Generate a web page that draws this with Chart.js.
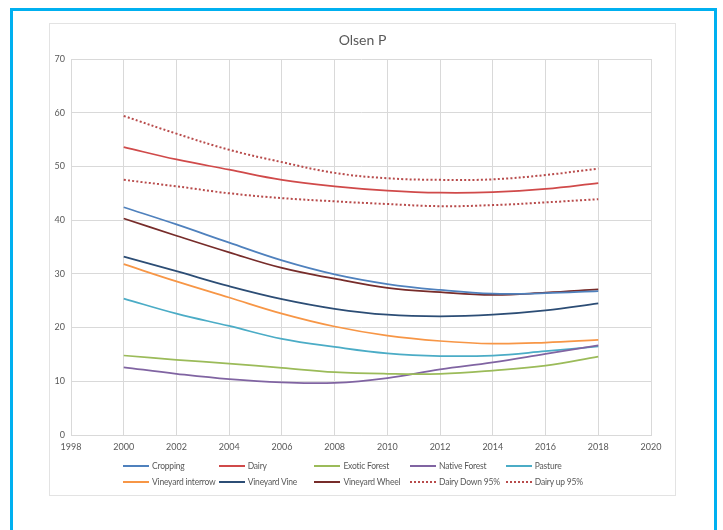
<!DOCTYPE html>
<html>
<head>
<meta charset="utf-8">
<script src="https://cdn.jsdelivr.net/npm/chart.js@4"></script>
<style>
  html, body { margin:0; padding:0; background:#fff; }
  body { width:723px; height:530px; position:relative; overflow:hidden; font-family: Lato, "Open Sans", sans-serif; }
  #cyan { position:absolute; left:10px; top:8px; width:701px; height:540px; border:3px solid #00B0F0; box-sizing:content-box; }
  #frame { position:absolute; left:49px; top:23px; width:625px; height:471px; border:1px solid #E3E3E3; }
  #title { position:absolute; left:49px; width:627px; top:31px; text-align:center; font-size:14px; color:#595959; }
  #wrap { position:absolute; left:0; top:0; width:723px; height:530px; }
  .lg { position:absolute; font-size:8.5px; letter-spacing:-0.2px; color:#595959; white-space:nowrap; height:10px; line-height:10px; }
  .lg .s { position:absolute; left:0; top:4px; width:26px; }
  .lg .t { position:absolute; left:29px; top:0; }
</style>
</head>
<body>
<div id="cyan"></div>
<div id="frame"></div>
<div id="wrap"><canvas id="c" width="723" height="530"></canvas></div>
<div id="title">Olsen P</div>
<div id="legend"></div>
<script>
const years = [2000, 2002, 2004, 2006, 2008, 2010, 2012, 2014, 2016, 2018];
const seriesNames = ["Cropping", "Dairy", "Exotic Forest", "Native Forest", "Pasture",
  "Vineyard interrow", "Vineyard Vine", "Vineyard Wheel", "Dairy Down 95%", "Dairy up 95%"];
const cropping        = [42.4, 39.2, 35.8, 32.5, 29.9, 28.1, 27.0, 26.3, 26.4, 26.8];
const dairy           = [53.6, 51.3, 49.4, 47.5, 46.3, 45.5, 45.1, 45.2, 45.8, 46.9];
const exoticForest    = [14.8, 14.0, 13.3, 12.5, 11.7, 11.4, 11.4, 12.0, 12.9, 14.6];
const nativeForest    = [12.6, 11.4, 10.4, 9.8, 9.7, 10.6, 12.2, 13.5, 15.1, 16.7];
const pasture         = [25.4, 22.6, 20.3, 17.9, 16.4, 15.2, 14.7, 14.8, 15.6, 16.5];
const vineyardInterrow= [31.8, 28.6, 25.6, 22.6, 20.2, 18.5, 17.5, 17.0, 17.2, 17.7];
const vineyardVine    = [33.2, 30.5, 27.7, 25.3, 23.5, 22.4, 22.1, 22.4, 23.2, 24.5];
const vineyardWheel   = [40.3, 37.1, 34.0, 31.1, 29.1, 27.4, 26.6, 26.1, 26.5, 27.1];
const dairyDown95     = [47.5, 46.3, 45.0, 44.1, 43.5, 43.0, 42.6, 42.8, 43.3, 43.9];
const dairyUp95       = [59.4, 56.1, 53.1, 50.8, 48.8, 47.8, 47.5, 47.6, 48.4, 49.6];
const xTicks = [1998, 2000, 2002, 2004, 2006, 2008, 2010, 2012, 2014, 2016, 2018, 2020];
const yTicks = [0, 10, 20, 30, 40, 50, 60, 70];

const values = [cropping, dairy, exoticForest, nativeForest, pasture, vineyardInterrow, vineyardVine, vineyardWheel, dairyDown95, dairyUp95];
const colors = ["#4F81BD", "#D04A4A", "#9BBB59", "#8064A2", "#4BACC6", "#F79646", "#2C4D75", "#772C2A", "#B84B4B", "#B84B4B"];
const dotted = [false, false, false, false, false, false, false, false, true, true];

const datasets = values.map((v, i) => ({
  label: seriesNames[i],
  data: years.map((y, j) => ({x: y, y: v[j]})),
  borderColor: colors[i],
  backgroundColor: colors[i],
  borderWidth: dotted[i] ? 2 : 1.75,
  borderDash: dotted[i] ? [2, 2.2] : [],
  pointRadius: 0,
  tension: 0.4,
  fill: false
}));

const tickFont = { family: "Lato, 'Open Sans', sans-serif", size: 9 };
const chart = new Chart(document.getElementById('c'), {
  type: 'line',
  data: { datasets },
  options: {
    responsive: false,
    animation: false,
    layout: { padding: { left: 41, right: 72, top: 59, bottom: 75 } },
    plugins: { legend: { display: false }, title: { display: false }, tooltip: { enabled: false } },
    scales: {
      x: {
        type: 'linear', min: xTicks[0], max: xTicks[xTicks.length - 1],
        afterBuildTicks: s => { s.ticks = xTicks.map(v => ({value: v})); },
        afterFit: s => { s.height = 20; },
        grid: { color: '#D9D9D9', drawTicks: false, lineWidth: 1 },
        border: { color: '#D9D9D9' },
        ticks: { color: '#595959', font: tickFont, padding: 7, maxRotation: 0, autoSkip: false, callback: v => String(v) }
      },
      y: {
        min: yTicks[0], max: yTicks[yTicks.length - 1],
        afterBuildTicks: s => { s.ticks = yTicks.map(v => ({value: v})); },
        afterFit: s => { s.width = 30; },
        grid: { color: '#D9D9D9', drawTicks: false, lineWidth: 1 },
        border: { color: '#D9D9D9' },
        ticks: { color: '#595959', font: tickFont, padding: 6, autoSkip: false }
      }
    }
  }
});

// HTML legend built from the chart datasets
const lg = document.getElementById('legend');
chart.data.datasets.forEach((ds, i) => {
  const col = i % 5, row = Math.floor(i / 5);
  const d = document.createElement('div');
  d.className = 'lg';
  d.style.left = (123 + col * 95.7) + 'px';
  d.style.top = (461 + row * 16) + 'px';
  const s = document.createElement('div');
  s.className = 's';
  s.style.borderTop = ds.borderDash.length ? ('2px dotted ' + ds.borderColor) : ('2px solid ' + ds.borderColor);
  const t = document.createElement('div');
  t.className = 't';
  t.textContent = ds.label;
  d.appendChild(s); d.appendChild(t);
  lg.appendChild(d);
});
</script>
</body>
</html>
